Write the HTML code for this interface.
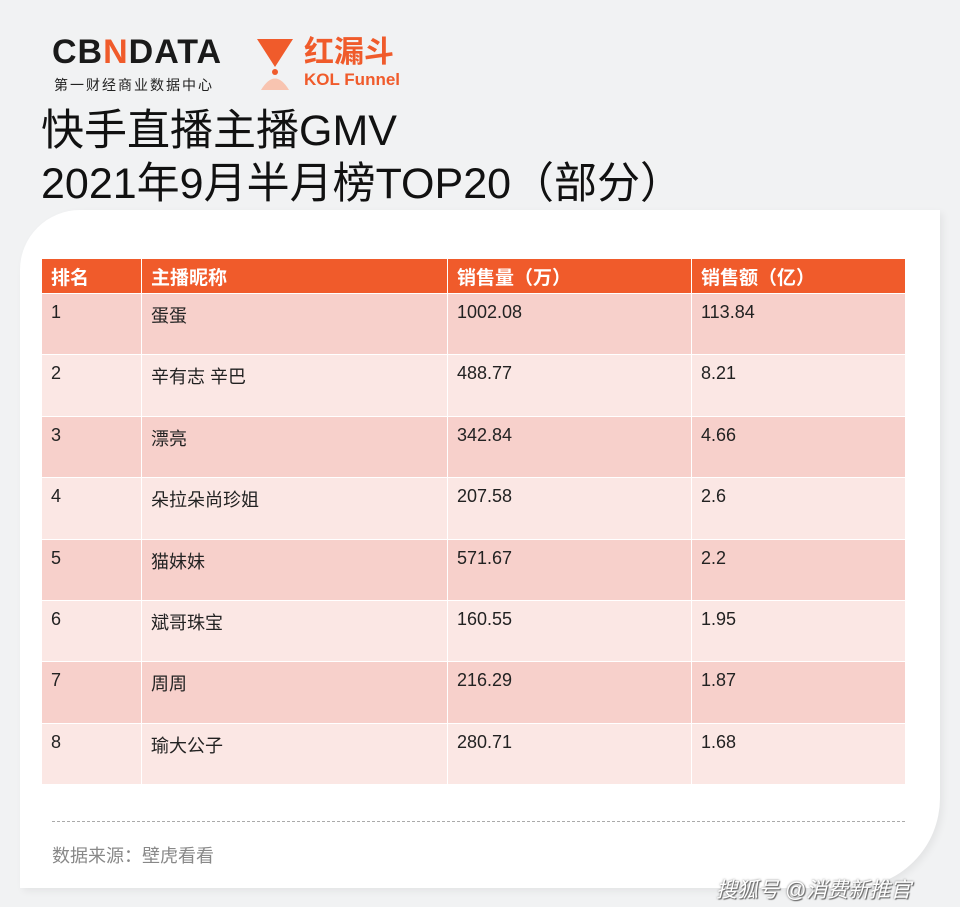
<!DOCTYPE html>
<html><head><meta charset="utf-8"><style>
body{margin:0;width:960px;height:907px;background:#f1f2f3;position:relative;overflow:hidden;font-family:"Liberation Sans","Noto Sans CJK SC",sans-serif;}
.abs{position:absolute}
#card{left:20px;top:210px;width:920px;height:678px;background:#fff;border-radius:60px 0 90px 0;box-shadow:3px 3px 8px rgba(0,0,0,0.06);}
table{position:absolute;left:41px;top:258px;border-collapse:collapse;table-layout:fixed;}
td,th{border:1px solid #fff;text-align:left;vertical-align:top;padding:0 0 0 9px;font-size:18px;color:#222;}
th{background:#f05b2b;color:#fff;height:34px;font-weight:bold;font-size:19px;vertical-align:middle;}
td{height:61.4px;padding-top:8px;box-sizing:border-box;}
tr.o td{background:#f7d0cb}
tr.e td{background:#fbe7e4}
</style></head><body>
<div class="abs" style="left:52px;top:33px;font-weight:bold;font-size:34px;letter-spacing:1px;color:#1a1a1a;">CB<span style="color:#f05b2b">N</span>DATA</div>
<div class="abs" style="left:54px;top:75px;font-size:14px;color:#222;letter-spacing:2px;">第一财经商业数据中心</div>
<svg class="abs" style="left:255px;top:37px" width="40" height="55"><polygon points="2,2 38,2 20,30" fill="#f05b2b"/><circle cx="20" cy="35" r="3" fill="#f05b2b"/><path d="M6,53 Q20,30 34,53 Z" fill="#f8c4b0"/></svg>
<div class="abs" style="left:304px;top:36px;color:#f05b2b;font-size:30px;font-weight:bold;line-height:34px;">红漏斗</div>
<div class="abs" style="left:304px;top:70px;color:#f05b2b;font-size:17px;font-weight:bold;">KOL Funnel</div>
<div class="abs" style="left:41px;top:105px;font-size:43px;line-height:53px;color:#111;">快手直播主播GMV<br>2021年9月半月榜TOP20（部分）</div>
<div class="abs" id="card"></div>
<table>
<colgroup><col style="width:100px"><col style="width:306px"><col style="width:244px"><col style="width:214px"></colgroup>
<tr><th>排名</th><th>主播昵称</th><th>销售量（万）</th><th>销售额（亿）</th></tr>
<tr class="o"><td>1</td><td>蛋蛋</td><td>1002.08</td><td>113.84</td></tr>
<tr class="e"><td>2</td><td>辛有志 辛巴</td><td>488.77</td><td>8.21</td></tr>
<tr class="o"><td>3</td><td>漂亮</td><td>342.84</td><td>4.66</td></tr>
<tr class="e"><td>4</td><td>朵拉朵尚珍姐</td><td>207.58</td><td>2.6</td></tr>
<tr class="o"><td>5</td><td>猫妹妹</td><td>571.67</td><td>2.2</td></tr>
<tr class="e"><td>6</td><td>斌哥珠宝</td><td>160.55</td><td>1.95</td></tr>
<tr class="o"><td>7</td><td>周周</td><td>216.29</td><td>1.87</td></tr>
<tr class="e"><td>8</td><td>瑜大公子</td><td>280.71</td><td>1.68</td></tr>
</table>
<div class="abs" style="left:52px;top:821px;width:853px;border-top:1px dashed #aaa;"></div>
<div class="abs" style="left:52px;top:842px;font-size:18px;color:#888;">数据来源：壁虎看看</div>
<div class="abs" style="left:716px;top:874px;font-size:21px;color:#fff;text-shadow:0 0 2px #777,1px 1px 1px #555;font-style:italic;">搜狐号 @消费新推官</div>
</body></html>
